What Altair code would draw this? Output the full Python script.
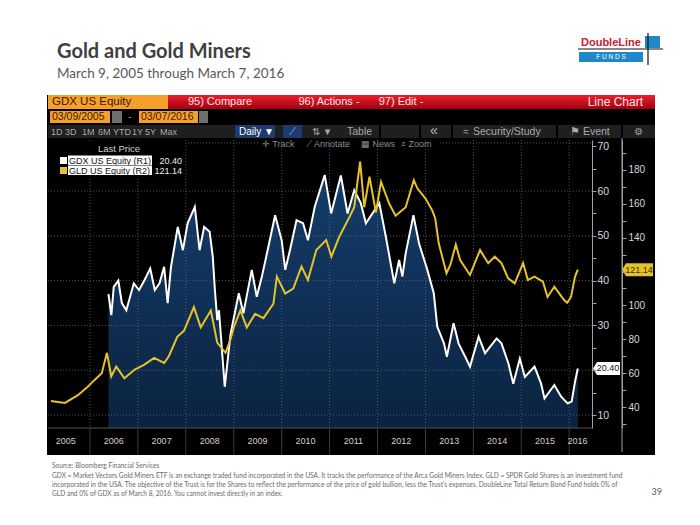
import altair as alt
import pandas as pd

# ---------------- data ----------------
gdx_dates = [
    "2006-05-22", "2006-06-13", "2006-07-01", "2006-08-05", "2006-09-01", "2006-10-05", "2006-12-01",
    "2007-01-10", "2007-02-20", "2007-04-05", "2007-05-10", "2007-06-15", "2007-07-20", "2007-08-16", "2007-09-10",
    "2007-11-01", "2007-12-10", "2008-01-15", "2008-03-10", "2008-04-15", "2008-05-20", "2008-07-01", "2008-07-25",
    "2008-08-10", "2008-08-28", "2008-09-10", "2008-10-24", "2008-12-07", "2009-02-08", "2009-03-15", "2009-05-18",
    "2009-06-25", "2009-08-03", "2009-09-10", "2009-11-12", "2010-01-01", "2010-01-28", "2010-03-05", "2010-04-24",
    "2010-06-13", "2010-07-20", "2010-09-10", "2010-11-25", "2011-01-13", "2011-03-28", "2011-05-18", "2011-07-08",
    "2011-08-27", "2011-10-05", "2012-01-15", "2012-03-05", "2012-05-08", "2012-06-14", "2012-07-09", "2012-08-03",
    "2012-10-01", "2012-11-13", "2013-01-15", "2013-03-05", "2013-04-01", "2013-05-22", "2013-06-13", "2013-08-03",
    "2013-09-10", "2013-10-31", "2013-12-06", "2014-02-10", "2014-03-31", "2014-06-27", "2014-08-03", "2014-09-25",
    "2014-11-01", "2014-12-21", "2015-01-28", "2015-04-12", "2015-06-01", "2015-06-27", "2015-09-10", "2015-11-01",
    "2015-12-20", "2016-01-20", "2016-02-15", "2016-03-07",
]
gdx_values = [
    37.0, 32.3, 38.6, 40.0, 35.0, 33.4, 39.4,
    37.9, 40.1, 42.7, 37.9, 39.4, 43.1, 35.0, 43.0,
    52.0, 46.8, 52.8, 56.5, 46.8, 52.0, 50.9, 45.3,
    37.9, 31.2, 33.4, 16.3, 28.0, 37.2, 32.7, 42.4,
    36.4, 40.9, 46.0, 54.6, 49.0, 42.4, 46.8, 53.5,
    52.8, 49.0, 56.5, 63.6, 55.0, 63.5, 55.0, 60.2,
    57.3, 52.8, 57.3, 49.8, 39.4, 44.6, 40.9, 46.1,
    54.6, 48.3, 42.4, 37.2, 29.7, 26.0, 23.0, 30.5,
    26.0, 23.0, 20.8, 27.5, 23.8, 27.1, 26.0, 21.5,
    17.0, 22.6, 18.5, 20.8, 17.0, 13.7, 16.7, 14.1,
    12.6, 13.0, 17.5, 20.40,
]
gld_dates = [
    "2005-03-09", "2005-06-24", "2005-10-01", "2005-12-15", "2006-02-05", "2006-04-01", "2006-05-10", "2006-06-12",
    "2006-07-20", "2006-09-20", "2006-12-05", "2007-02-20", "2007-05-05", "2007-07-20", "2007-08-25", "2007-10-28",
    "2007-12-18", "2008-03-03", "2008-04-24", "2008-07-10", "2008-08-28", "2008-10-30", "2008-12-07", "2009-01-01",
    "2009-02-20", "2009-04-10", "2009-06-12", "2009-08-15", "2009-10-30", "2009-11-25", "2010-01-28", "2010-03-30",
    "2010-06-01", "2010-07-20", "2010-09-22", "2010-12-06", "2011-01-15", "2011-03-16", "2011-05-31", "2011-07-08",
    "2011-08-22", "2011-09-22", "2011-11-01", "2011-12-20", "2012-01-28", "2012-03-31", "2012-05-18", "2012-08-03",
    "2012-10-04", "2012-11-01", "2013-01-03", "2013-02-22", "2013-03-16", "2013-04-12", "2013-06-10", "2013-07-10",
    "2013-08-20", "2013-09-22", "2013-12-06", "2014-02-21", "2014-04-24", "2014-06-13", "2014-08-03", "2014-09-23",
    "2014-11-12", "2015-01-15", "2015-02-20", "2015-04-12", "2015-06-15", "2015-07-20", "2015-09-10", "2015-11-25",
    "2015-12-17", "2016-01-15", "2016-02-15", "2016-03-07",
]
gld_values = [
    43.5, 42.4, 47.0, 52.0, 56.0, 60.0, 72.0, 58.0,
    64.0, 57.0, 62.0, 65.0, 69.0, 66.0, 70.0, 81.5,
    85.0, 99.0, 87.0, 97.0, 78.0, 72.0, 80.0, 87.0,
    97.0, 87.0, 95.0, 92.5, 101.0, 117.0, 107.0, 110.0,
    123.0, 115.0, 132.7, 138.6, 128.8, 140.6, 152.0, 158.0,
    185.0, 158.0, 176.0, 155.0, 173.0, 160.0, 153.0, 158.0,
    174.0, 169.0, 163.0, 156.0, 151.5, 136.7, 119.0, 124.0,
    136.0, 126.8, 118.0, 132.7, 124.9, 128.8, 125.0, 116.0,
    113.0, 125.0, 115.0, 117.0, 114.0, 105.0, 111.0, 103.0,
    101.6, 105.0, 117.0, 121.14,
]
year_starts = ["2006-01-01", "2007-01-01", "2008-01-01", "2009-01-01", "2010-01-01", "2011-01-01",
               "2012-01-01", "2013-01-01", "2014-01-01", "2015-01-01", "2016-01-01"]
year_label_dates = ["2005-07-01", "2006-07-01", "2007-07-01", "2008-07-01", "2009-07-01", "2010-07-01",
                    "2011-07-01", "2012-07-01", "2013-07-01", "2014-07-01", "2015-07-01", "2016-03-05"]
year_labels = ["2005", "2006", "2007", "2008", "2009", "2010", "2011", "2012", "2013", "2014", "2015", "2016"]
x_domain = ["2005-02-15", "2016-06-23"]
gdx_axis_values = [10, 15, 20, 25, 30, 35, 40, 45, 50, 55, 60, 65, 70]
gld_axis_values = [30, 40, 50, 60, 70, 80, 90, 100, 110, 120, 130, 140, 150, 160, 170, 180, 190]
gdx_grid_values = [10, 20, 30, 40, 50, 60]
gdx_domain = [7.1, 71.4]
gld_domain = [27.6, 197.7]
gdx_last = 20.40
gld_last = 121.14

gdx_df = pd.DataFrame({"date": gdx_dates, "price": gdx_values})
gld_df = pd.DataFrame({"date": gld_dates, "price": gld_values})
years_df = pd.DataFrame({"date": year_starts})
year_lab_df = pd.DataFrame({"date": year_label_dates, "label": year_labels})
grid_df = pd.DataFrame({"v": gdx_grid_values})
gdx_last_df = pd.DataFrame({"v": [gdx_last], "t": [f"{gdx_last:.2f}"]})
gld_last_df = pd.DataFrame({"v": [gld_last], "t": [f"{gld_last:.2f}"]})
one = pd.DataFrame({"k": [0]})


def dt(s):
    return alt.DateTime(year=int(s[:4]), month=int(s[5:7]), date=int(s[8:10]), utc=True)


W, H = 544, 288
BB = "Liberation Sans, Arial, sans-serif"
SL = "Lato, Open Sans, sans-serif"
XS = alt.Scale(domain=[dt(s) for s in x_domain])
GDX_S = alt.Scale(domain=gdx_domain, zero=False, nice=False)
GLD_S = alt.Scale(domain=gld_domain, zero=False, nice=False)


def txt(s, x, y, size=10, color="#cccccc", align="left", weight="normal", font=BB, baseline="middle"):
    return alt.Chart(one).mark_text(text=s, align=align, baseline=baseline, fontSize=size, color=color,
                                    fontWeight=weight, font=font).encode(x=alt.value(x), y=alt.value(y))


def box(x, y, x2, y2, color, **kw):
    return alt.Chart(one).mark_rect(color=color, **kw).encode(
        x=alt.value(x), x2=alt.value(x2), y=alt.value(y), y2=alt.value(y2))


def hline(x, x2, y, color, width=1, dash=None):
    kw = {"strokeDash": dash} if dash else {}
    return alt.Chart(one).mark_rule(color=color, strokeWidth=width, **kw).encode(
        x=alt.value(x), x2=alt.value(x2), y=alt.value(y))


def vline(x, y, y2, color, width=1):
    return alt.Chart(one).mark_rule(color=color, strokeWidth=width).encode(
        x=alt.value(x), y=alt.value(y), y2=alt.value(y2))


layers = []
# ---------- Bloomberg panel ----------
layers.append(box(-1, -45, 607, 315, "#000000"))
red = alt.Gradient(gradient="linear", x1=0, x2=0, y1=0, y2=1,
                   stops=[alt.GradientStop(color="#e8202c", offset=0),
                          alt.GradientStop(color="#a4000f", offset=1)])
orange = "#f6a02c"
layers.append(box(0, -45, 120, -31, orange))
layers.append(box(120, -45, 607, -31, red))
layers.append(txt("GDX US Equity", 4, -38, 11.5, "#3a1800"))
layers.append(txt("95) Compare", 172, -38, 11, "#ffe4e4", "center"))
layers.append(txt("96) Actions  -", 281, -38, 11, "#ffe4e4", "center"))
layers.append(txt("97) Edit  -", 353, -38, 11, "#ffe4e4", "center"))
layers.append(txt("Line Chart", 595, -38, 12, "#ffe4e4", "right"))
# date row
layers.append(box(2, -29, 62, -17, orange))
layers.append(box(64, -29, 74, -17, "#6e6e6e"))
layers.append(txt("-", 82, -23, 10, "#9a9a9a", "center"))
layers.append(box(91, -29, 150, -17, orange))
layers.append(box(151, -29, 160, -17, "#6e6e6e"))
layers.append(txt("03/09/2005", 4, -23, 10.5, "#3a1800"))
layers.append(txt("03/07/2016", 93, -23, 10.5, "#3a1800"))
# button row
layers.append(box(0, -15, 607, -2, "#1f1f1f"))
for lab, xx in [("1D", 3), ("3D", 17), ("1M", 34), ("6M", 50), ("YTD", 65), ("1Y", 84), ("5Y", 97), ("Max", 112)]:
    layers.append(txt(lab, xx, -8.5, 9, "#a8a8a8"))
layers.append(box(187, -15, 227, -2, "#1d3b6e"))
layers.append(txt("Daily ▼", 191, -8.5, 10, "#ffffff"))
layers.append(box(235, -15, 254, -2, "#1d3b6e"))
layers.append(txt("⟋", 244, -8.5, 10, "#9fb3d8", "center"))
layers.append(txt("⇅  ▼", 264, -8.5, 9.5, "#a8a8a8"))
layers.append(txt("Table", 299, -8.5, 10.5, "#a8a8a8"))
for xx in [332, 372, 404, 509, 574]:
    layers.append(vline(xx, -15, -2, "#000000", 2))
layers.append(txt("«", 386, -9.5, 14, "#b8b8b8", "center"))
layers.append(txt("≈", 418, -8.5, 10, "#a8a8a8", "center"))
layers.append(txt("Security/Study", 425, -8.5, 10.5, "#a8a8a8"))
layers.append(txt("⚑  Event", 522, -8.5, 10.5, "#a8a8a8"))
layers.append(txt("⚙", 590, -8.5, 10, "#a8a8a8", "center"))

# ---------- plot data layers ----------
area_fill = alt.Gradient(gradient="linear", x1=0, x2=0, y1=0, y2=1,
                         stops=[alt.GradientStop(color="#143d6b", offset=0),
                                alt.GradientStop(color="#0a1f3b", offset=1)])
gdx_area = alt.Chart(gdx_df).mark_area(fill=area_fill, clip=True).encode(
    x=alt.X("date:T", scale=XS, axis=None),
    y=alt.Y("price:Q", scale=GDX_S, axis=None))
layers.append(gdx_area)

grid_h = alt.Chart(grid_df).mark_rule(color="#6a6a6a", strokeWidth=0.8, strokeDash=[1, 2]).encode(
    y=alt.Y("v:Q", scale=GDX_S, axis=None))
grid_v = alt.Chart(years_df).mark_rule(color="#6a6a6a", strokeWidth=0.8, strokeDash=[1, 2]).encode(
    x=alt.X("date:T", scale=XS, axis=None))
band_v = alt.Chart(years_df).mark_rule(color="#3a3a3a", strokeWidth=1).encode(
    x=alt.X("date:T", scale=XS, axis=None), y=alt.value(H), y2=alt.value(H + 27))
year_text = alt.Chart(year_lab_df).mark_text(fontSize=9, color="#d0d0d0", font=BB, align="center",
                                             baseline="middle").encode(
    x=alt.X("date:T", scale=XS, axis=None), y=alt.value(H + 13), text="label:N")
layers += [grid_h, grid_v, band_v, year_text]
layers.append(hline(0, W, H, "#555555", 1))
layers.append(hline(140, 212, 3, "#6a6a6a", 0.8, [1, 2]))
layers.append(hline(392, 544, 3, "#6a6a6a", 0.8, [1, 2]))
layers.append(vline(574, -2, 312, "#a0a0a0", 1))

gdx_axis = alt.Axis(orient="right", values=gdx_axis_values,
                    labelExpr="datum.value % 10 == 0 && datum.value != 20 ? datum.label : ''",
                    grid=False, tickSize=4, tickColor="#a0a0a0", domainColor="#a0a0a0",
                    labelColor="#d8d8d8", labelFont=BB, labelFontSize=10.5, labelPadding=1,
                    title=None, labelOverlap=False, zindex=1)
gld_axis = alt.Axis(orient="right", offset=30, values=gld_axis_values,
                    labelExpr="datum.value % 20 == 0 && datum.value != 120 ? datum.label : ''",
                    grid=False, tickSize=4, tickColor="#a0a0a0", domainColor="#a0a0a0",
                    labelColor="#d8d8d8", labelFont=BB, labelFontSize=10, labelPadding=2,
                    title=None, labelOverlap=False, zindex=1)
gdx_line = alt.Chart(gdx_df).mark_line(color="#ffffff", strokeWidth=2, clip=True).encode(
    x=alt.X("date:T", scale=XS, axis=None),
    y=alt.Y("price:Q", scale=GDX_S, axis=gdx_axis))
gld_line = alt.Chart(gld_df).mark_line(color="#e6c22a", strokeWidth=2, clip=True).encode(
    x=alt.X("date:T", scale=XS, axis=None),
    y=alt.Y("price:Q", scale=GLD_S, axis=gld_axis))
layers += [gdx_line, gld_line]

# last-price tags
gdx_tag = alt.Chart(gdx_last_df).mark_point(
    shape="M -13.5 0 L -9.5 -6.5 L 13.5 -6.5 L 13.5 6.5 L -9.5 6.5 Z",
    filled=True, size=4, color="#ffffff", opacity=1).encode(
    x=alt.value(558.5), y=alt.Y("v:Q", scale=GDX_S, axis=None))
gdx_tag_t = alt.Chart(gdx_last_df).mark_text(fontSize=9, color="#111111", font=BB, align="center").encode(
    x=alt.value(560), y=alt.Y("v:Q", scale=GDX_S, axis=None), text="t:N")
gld_tag = alt.Chart(gld_last_df).mark_point(
    shape="M -15.5 0 L -11.5 -6.5 L 15.5 -6.5 L 15.5 6.5 L -11.5 6.5 Z",
    filled=True, size=4, color="#e6c22a", opacity=1).encode(
    x=alt.value(589.5), y=alt.Y("v:Q", scale=GLD_S, axis=None))
gld_tag_t = alt.Chart(gld_last_df).mark_text(fontSize=9, color="#3a2c00", font=BB, align="center").encode(
    x=alt.value(591), y=alt.Y("v:Q", scale=GLD_S, axis=None), text="t:N")
layers += [gdx_tag, gdx_tag_t, gld_tag, gld_tag_t]

# toolbar row inside plot
layers.append(txt("✛ Track", 214, 4, 9, "#8c8c8c"))
layers.append(txt("⟋ Annotate", 258, 4, 9, "#8c8c8c"))
layers.append(txt("▦ News", 313, 4, 9, "#8c8c8c"))
layers.append(txt("⌕ Zoom", 353, 4, 9, "#8c8c8c"))

# legend box
layers.append(box(2, 2, 137, 37, "#000000"))
layers.append(txt("Last Price", 71, 9, 9.5, "#d0d0d0", "center"))
layers.append(box(12, 17, 19, 24, "#ffffff"))
layers.append(box(20, 15.5, 104, 25, "#ffffff"))
layers.append(txt("GDX US Equity  (R1)", 21, 20.5, 9, "#111111"))
layers.append(txt(f"{gdx_last:.2f}", 134, 20.5, 9, "#eeeeee", "right"))
layers.append(box(12, 27, 19, 34, "#e6c22a"))
layers.append(box(20, 25.5, 104, 35, "#ffffff"))
layers.append(txt("GLD US Equity  (R2)", 21, 30.5, 9, "#111111"))
layers.append(txt(f"{gld_last:.2f}", 134, 30.5, 9, "#eeeeee", "right"))

# ---------- slide text ----------
layers.append(txt("Gold and Gold Miners", 9, -82, 20, "#404040", weight="bold", font=SL, baseline="alphabetic"))
layers.append(txt("March 9, 2005 through March 7, 2016", 9, -62, 13.5, "#595959", font=SL, baseline="alphabetic"))
# logo
layers.append(txt("DoubleLine", 533, -94, 11, "#c8202f", weight="bold", font="Liberation Sans, sans-serif",
                  baseline="alphabetic"))
layers.append(box(531, -88, 595, -78, "#1e88c9"))
layers.append(box(597, -104, 612, -92, "#1e88c9"))
layers.append(txt("F    U    N    D    S", 563, -83, 6.5, "#ffffff", "center", font="Liberation Sans, sans-serif"))
layers.append(vline(600, -107, -75, "#111111", 1.2))
layers.append(hline(530, 615, -91, "#111111", 1.2))
# footnotes
fn = "#6a6a6a"
layers.append(txt("Source: Bloomberg Financial Services", 4, 326, 6.6, fn, font=SL))
layers.append(txt("GDX = Market Vectors Gold Miners ETF is an exchange traded fund incorporated in the USA. It tracks the "
                  "performance of the Arca Gold Miners Index. GLD = SPDR Gold Shares is an investment fund",
                  4, 336, 6.6, fn, font=SL))
layers.append(txt("incorporated in the USA. The objective of the Trust is for the Shares to reflect the performance of the "
                  "price of gold bullion, less the Trust's expenses. DoubleLine Total Return Bond Fund holds 0% of",
                  4, 345, 6.6, fn, font=SL))
layers.append(txt("GLD and 0% of GDX as of March 8, 2016.  You cannot invest directly in an index.",
                  4, 354, 6.6, fn, font=SL))
layers.append(txt("39", 614, 352, 9, "#555555", "right", font=SL))

chart = alt.layer(*layers).resolve_scale(y="independent").properties(
    width=W, height=H,
    autosize=alt.AutoSizeParams(type="none"),
    padding={"left": 40, "top": 132, "right": 100, "bottom": 89},
    background="#ffffff",
).configure_view(strokeWidth=0)

chart.save("out.html", embed_options={"renderer": "svg", "actions": False})
